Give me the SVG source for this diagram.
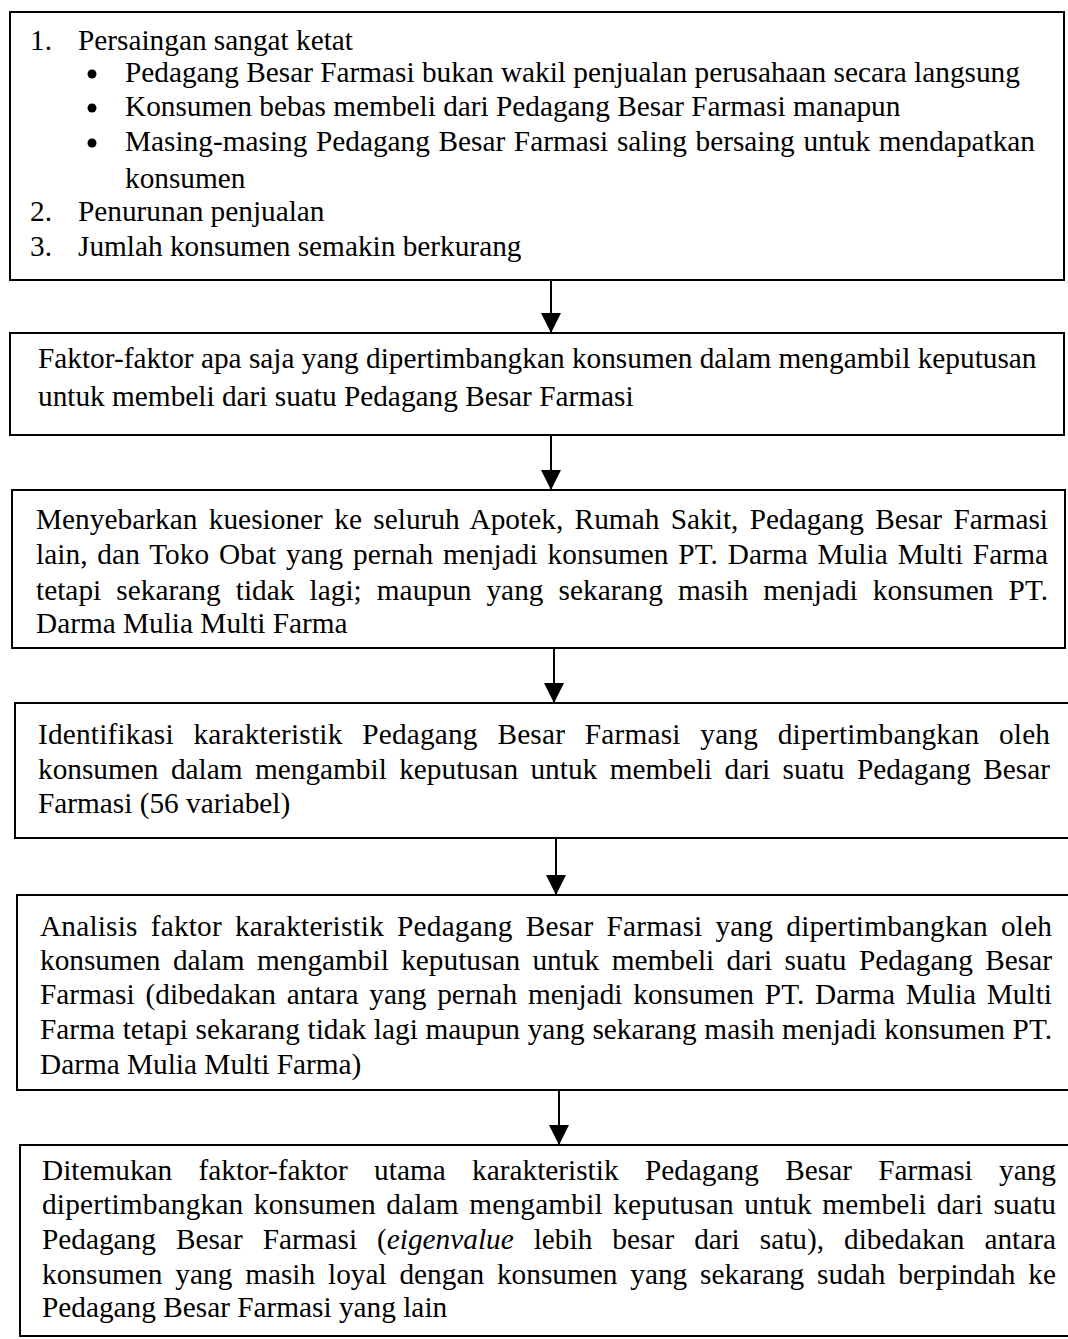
<svg xmlns="http://www.w3.org/2000/svg" width="1068" height="1339" viewBox="0 0 1068 1339">
<style>
.box{fill:#fff;stroke:#000;stroke-width:2}
.t{font-family:"Liberation Serif","Times New Roman",serif;font-size:29.3px;fill:#000}
.conn{stroke:#000;stroke-width:2;fill:none}
</style>
<defs>
<marker id="ah" markerUnits="userSpaceOnUse" markerWidth="20" markerHeight="20" refX="20" refY="10" orient="auto" viewBox="0 0 20 20">
<path d="M0,0 L20,10 L0,20 Z" fill="#000"/>
</marker>
</defs>
<rect width="1068" height="1339" fill="#fff"/>
<g id="connectors">
<line class="conn" x1="551" y1="280" x2="551" y2="333" marker-end="url(#ah)"/>
<line class="conn" x1="551" y1="435" x2="551" y2="490" marker-end="url(#ah)"/>
<line class="conn" x1="554" y1="648" x2="554" y2="703" marker-end="url(#ah)"/>
<line class="conn" x1="556" y1="838" x2="556" y2="895" marker-end="url(#ah)"/>
<line class="conn" x1="559" y1="1090" x2="559" y2="1145" marker-end="url(#ah)"/>
</g>
<g id="node1">
<rect class="box" x="10" y="12" width="1054" height="268"/>
<text class="t" x="30" y="50">1.</text>
<text class="t" x="78" y="50">Persaingan sangat ketat</text>
<circle cx="92" cy="74" r="4.5"/>
<text class="t" x="125" y="82">Pedagang Besar Farmasi bukan wakil penjualan perusahaan secara langsung</text>
<circle cx="92" cy="108" r="4.5"/>
<text class="t" x="125" y="116">Konsumen bebas membeli dari Pedagang Besar Farmasi manapun</text>
<circle cx="92" cy="143" r="4.5"/>
<text class="t" x="125" y="151" word-spacing="1.3" textLength="910" lengthAdjust="spacing">Masing-masing Pedagang Besar Farmasi saling bersaing untuk mendapatkan</text>
<text class="t" x="125" y="188">konsumen</text>
<text class="t" x="30" y="221">2.</text>
<text class="t" x="78" y="221">Penurunan penjualan</text>
<text class="t" x="30" y="256">3.</text>
<text class="t" x="78" y="256">Jumlah konsumen semakin berkurang</text>
</g>
<g id="node2">
<rect class="box" x="10" y="333" width="1054" height="102"/>
<text class="t" x="38" y="368">Faktor-faktor apa saja yang dipertimbangkan konsumen dalam mengambil keputusan</text>
<text class="t" x="38" y="406">untuk membeli dari suatu Pedagang Besar Farmasi</text>
</g>
<g id="node3">
<rect class="box" x="12" y="490" width="1053" height="158"/>
<text class="t" x="36" y="529" word-spacing="4" textLength="1012" lengthAdjust="spacing">Menyebarkan kuesioner ke seluruh Apotek, Rumah Sakit, Pedagang Besar Farmasi</text>
<text class="t" x="36" y="564" word-spacing="2.4" textLength="1012" lengthAdjust="spacing">lain, dan Toko Obat yang pernah menjadi konsumen PT. Darma Mulia Multi Farma</text>
<text class="t" x="36" y="600" word-spacing="7.7" textLength="1012" lengthAdjust="spacing">tetapi sekarang tidak lagi; maupun yang sekarang masih menjadi konsumen PT.</text>
<text class="t" x="36" y="633">Darma Mulia Multi Farma</text>
</g>
<g id="node4">
<rect class="box" x="15" y="703" width="1060" height="135"/>
<text class="t" x="38" y="744" word-spacing="12.2" textLength="1012" lengthAdjust="spacing">Identifikasi karakteristik Pedagang Besar Farmasi yang dipertimbangkan oleh</text>
<text class="t" x="38" y="779" word-spacing="5.1" textLength="1012" lengthAdjust="spacing">konsumen dalam mengambil keputusan untuk membeli dari suatu Pedagang Besar</text>
<text class="t" x="38" y="813">Farmasi (56 variabel)</text>
</g>
<g id="node5">
<rect class="box" x="17" y="895" width="1060" height="195"/>
<text class="t" x="40" y="936" word-spacing="5.6" textLength="1012" lengthAdjust="spacing">Analisis faktor karakteristik Pedagang Besar Farmasi yang dipertimbangkan oleh</text>
<text class="t" x="40" y="970" word-spacing="5.1" textLength="1012" lengthAdjust="spacing">konsumen dalam mengambil keputusan untuk membeli dari suatu Pedagang Besar</text>
<text class="t" x="40" y="1004" word-spacing="3.5" textLength="1012" lengthAdjust="spacing">Farmasi (dibedakan antara yang pernah menjadi konsumen PT. Darma Mulia Multi</text>
<text class="t" x="40" y="1039" word-spacing="0.3" textLength="1012" lengthAdjust="spacing">Farma tetapi sekarang tidak lagi maupun yang sekarang masih menjadi konsumen PT.</text>
<text class="t" x="40" y="1074">Darma Mulia Multi Farma)</text>
</g>
<g id="node6">
<rect class="box" x="20" y="1145" width="1060" height="191"/>
<text class="t" x="42" y="1180" word-spacing="19" textLength="1014" lengthAdjust="spacing">Ditemukan faktor-faktor utama karakteristik Pedagang Besar Farmasi yang</text>
<text class="t" x="42" y="1214" word-spacing="2.9" textLength="1014" lengthAdjust="spacing">dipertimbangkan konsumen dalam mengambil keputusan untuk membeli dari suatu</text>
<text class="t" x="42" y="1249" word-spacing="12.7" textLength="1014" lengthAdjust="spacing">Pedagang Besar Farmasi (<tspan font-style="italic">eigenvalue</tspan> lebih besar dari satu), dibedakan antara</text>
<text class="t" x="42" y="1284" word-spacing="5.5" textLength="1014" lengthAdjust="spacing">konsumen yang masih loyal dengan konsumen yang sekarang sudah berpindah ke</text>
<text class="t" x="42" y="1317">Pedagang Besar Farmasi yang lain</text>
</g>
</svg>
